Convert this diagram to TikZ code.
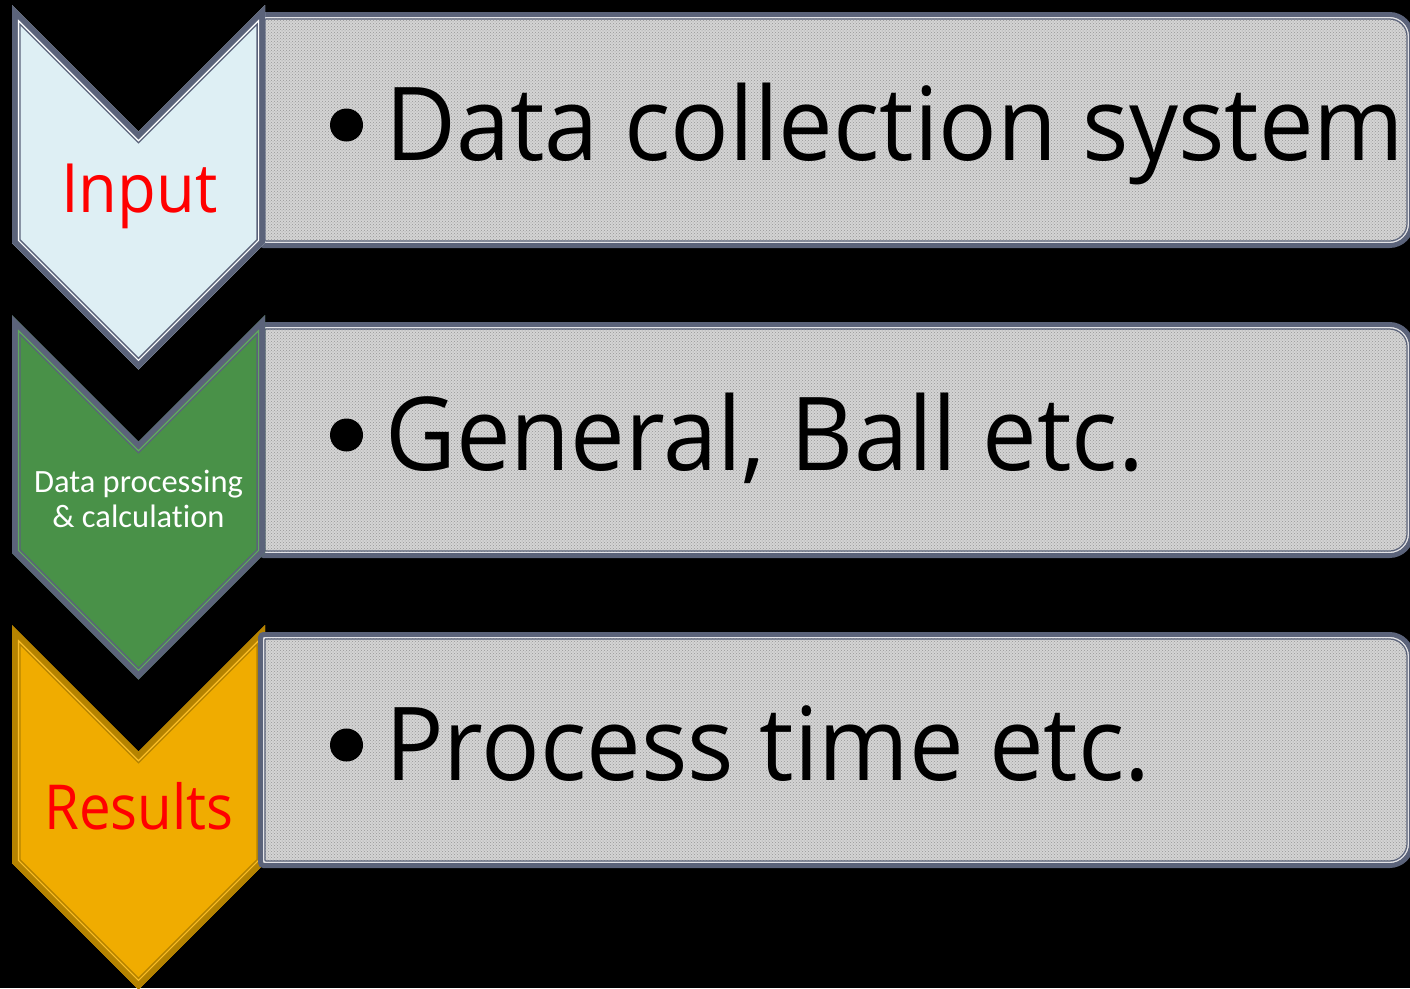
\documentclass[tikz,border=0pt]{standalone}
\usepackage{fontspec}
\usetikzlibrary{patterns}
\setmainfont{Open Sans}
\newfontfamily\calfont[Ligatures=NoCommon]{Carlito}
\newfontfamily\bigfont[FakeStretch=0.955]{Open Sans}
\newfontfamily\inpfont[FakeStretch=0.93]{Open Sans}
\newfontfamily\resfont[FakeStretch=0.91]{Open Sans}
\definecolor{slate}{RGB}{91,99,122}
\definecolor{goldline}{RGB}{181,131,0}
\definecolor{paleblue}{RGB}{222,239,244}
\definecolor{leaf}{RGB}{73,145,72}
\definecolor{leaflight}{RGB}{96,170,94}
\definecolor{amber}{RGB}{240,172,0}
\definecolor{amberlight}{RGB}{250,190,40}
\definecolor{boxgray}{RGB}{212,212,212}
\definecolor{boxdot}{RGB}{150,150,150}
\definecolor{boxgap}{RGB}{228,228,232}
\newcommand\chevpath[2]{% #1 top y, #2 inset d
  (12+#2,#1+2.4142*#2) -- (138.5,#1+126.5+1.4142*#2) -- (265-#2,#1+2.4142*#2)
  -- (265-#2,#1+238-0.4142*#2) -- (138.5,#1+364.5-1.4142*#2) -- (12+#2,#1+238-0.4142*#2) -- cycle}
\newcommand\mychev[4]{% #1 top, #2 fill, #3 border, #4 gap
  \path[fill=#2] \chevpath{#1}{0};
  \draw[#3, line width=6, line join=miter] \chevpath{#1}{3};
  \draw[#4, line width=1.3, line join=miter] \chevpath{#1}{6.6};
  \draw[#3, line width=1.3, line join=miter] \chevpath{#1}{7.9};
}
\newcommand\rrpath[6]{% L T R B a b
  (#1,#2+#5) arc[start angle=180,end angle=270,radius=#5] -- (#3-#6,#2)
  arc[start angle=270,end angle=360,radius=#6] -- (#3,#4-#6)
  arc[start angle=0,end angle=90,radius=#6] -- (#1+#5,#4)
  arc[start angle=90,end angle=180,radius=#5] -- cycle}
\newcommand\mybox[1]{% #1 top y
  \path[fill=boxgray] \rrpath{260.5}{#1+2.5}{1411.5}{#1+233.5}{3}{22};
  \path[pattern=crosshatch dots, pattern color=boxdot] \rrpath{260.5}{#1+2.5}{1411.5}{#1+233.5}{3}{22};
  \draw[slate, line width=5] \rrpath{260.5}{#1+2.5}{1411.5}{#1+233.5}{3}{22};
  \draw[boxgap, line width=1.1] \rrpath{263.6}{#1+5.6}{1408.4}{#1+230.4}{1.5}{19};
  \draw[slate, line width=1.2] \rrpath{265}{#1+7}{1407}{#1+229}{1}{17.5};
}
\tikzset{
  bigtext/.style={anchor=base west, inner sep=0pt, text=black, font=\bigfont\fontsize{102}{110}\selectfont},
  bulletdot/.style={fill=black},
  chevred/.style={anchor=base, inner sep=0pt, text=red},
  chevwhite/.style={anchor=base, inner sep=0pt, text=white, align=center, font=\calfont\fontsize{32.5}{35}\selectfont}
}
\begin{document}
\begin{tikzpicture}[x=1pt,y=-1pt]
\fill[black] (0,0) rectangle (1410,988);
\useasboundingbox (0,0) rectangle (1410,988);
% row 1 and 2: boxes under chevrons
\mybox{12}
\mybox{322}
\mychev{5}{paleblue}{slate}{white}
\mychev{315}{leaf}{slate}{leaflight}
% row 3: chevron under box
\mychev{625}{amber}{goldline}{amberlight}
\mybox{632}
% chevron labels
\node[chevred, font=\inpfont\fontsize{68}{70}\selectfont] (inp) at (139.5,212) {Input};
\node[chevwhite] (proc) at (138.5,527) {Data processing\\\& calculation};
\node[chevred, font=\resfont\fontsize{62}{64}\selectfont] (res) at (139,829) {Results};
% box texts
\fill[bulletdot] (346.5,125) circle[radius=16.5];
\node[bigtext] (t1) at (385,160) {Data collection system};
\fill[bulletdot] (346.5,435) circle[radius=16.5];
\node[bigtext] (t2) at (385,470) {General, Ball etc.};
\fill[bulletdot] (346.5,745) circle[radius=16.5];
\node[bigtext] (t3) at (385,780) {Process time etc.};
\end{tikzpicture}
\end{document}
